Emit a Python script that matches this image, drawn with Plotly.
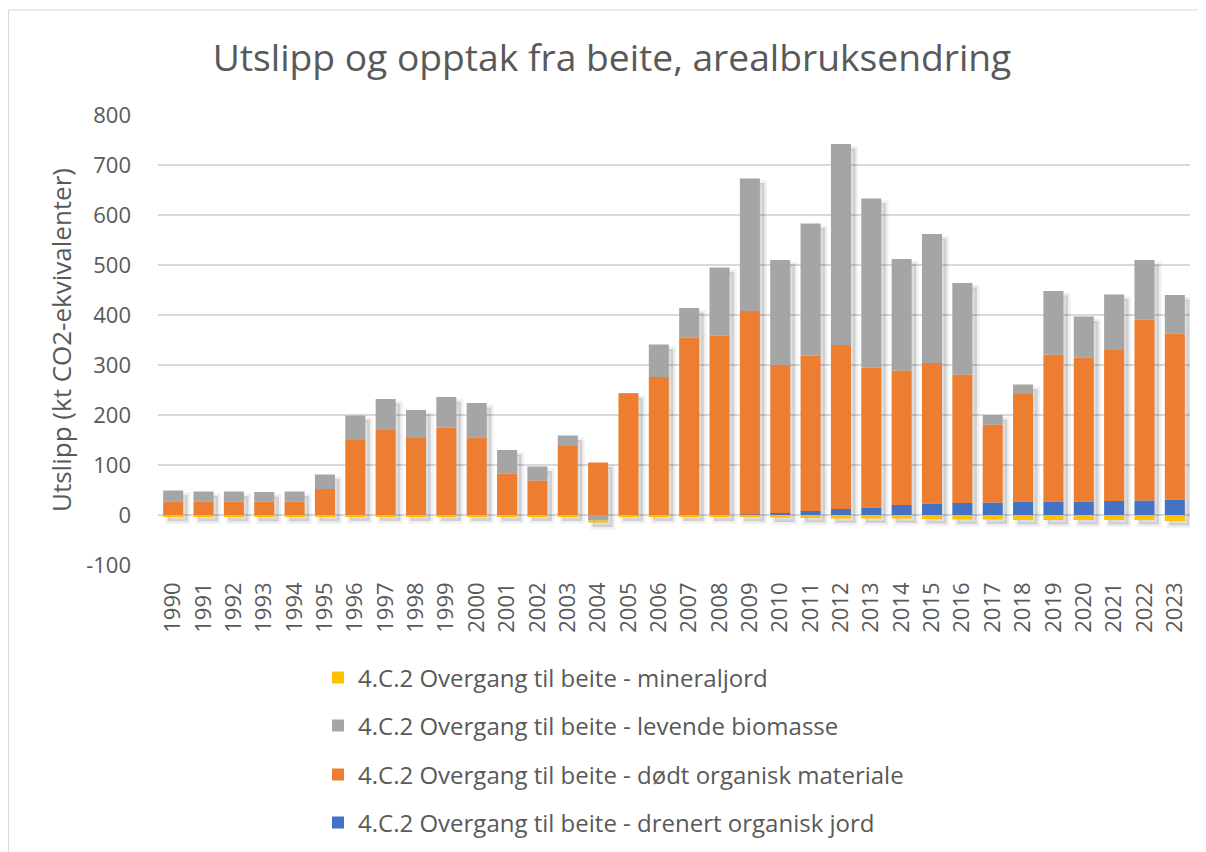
import plotly.graph_objects as go

years = [str(y) for y in range(1990, 2024)]
drenert = [0, 0, 0, 0, 0, 0, 0, 0, 0, 0, 0, 0, 0, 0, 0, 0, 0, 0, 0, 1, 4, 8, 12, 15, 20, 23, 24, 25, 27, 27, 27, 28, 29, 31]
dodt = [27, 27, 27, 27, 27, 52, 150, 170, 154, 175, 155, 83, 69, 138, 105, 242, 276, 355, 359, 407, 296, 311, 328, 280, 269, 281, 257, 156, 215, 294, 288, 302, 362, 332]
levende = [22, 20, 20, 19, 20, 29, 49, 62, 56, 61, 69, 47, 28, 21, -11, 1, 65, 59, 136, 265, 210, 264, 402, 338, 223, 258, 183, 19, 19, 127, 82, 111, 119, 77]
mineral = [-4, -4, -4, -4, -4, -4, -3, -3, -3, -3, -3, -3, -3, -3, -4, -3, -3, -3, -3, -4, -5, -6, -7, -7, -7, -8, -9, -9, -10, -10, -10, -10, -10, -12]
y_ticks = list(range(-100, 900, 100))

names = [
    "4.C.2 Overgang til beite - drenert organisk jord",
    "4.C.2 Overgang til beite - dødt organisk materiale",
    "4.C.2 Overgang til beite - levende biomasse",
    "4.C.2 Overgang til beite - mineraljord",
]
colors = ["#4472C4", "#ED7D31", "#A5A5A5", "#FFC000"]
series = [drenert, dodt, levende, mineral]
legend_ids = ["legend4", "legend3", "legend2", "legend"]
legend_centers = [815, 767, 718, 670]  # figure px of each legend row

font_family = "Open Sans"
txt = "#595959"
W, H = 1198, 844
L, R, T, B = 150, 16, 107, 287
PW, PH = W - L - R, H - T - B
BARW = 0.66


def px(fx):
    return (fx - L) / PW


def py(fy):
    return (H - B - fy) / PH


# soft drop shadow behind each stacked column (derived from the series totals)
series_cols = list(zip(*series))
pos_tot = [sum(v for v in col if v > 0) for col in series_cols]
neg_tot = [sum(v for v in col if v < 0) for col in series_cols]
drop = 9  # shadow shift downwards, in axis units (~4.5 px)
fig = go.Figure()
fig.add_trace(go.Bar(
    x=years, y=[p - n for p, n in zip(pos_tot, neg_tot)],
    base=[n - drop for n in neg_tot],
    width=BARW, offset=-BARW / 2 + 0.15,
    marker=dict(color="rgba(0,0,0,0.13)", line=dict(color="rgba(0,0,0,0.06)", width=5)),
    showlegend=False, hoverinfo="skip", xaxis="x", yaxis="y"))

for i, (nm, col, vals) in enumerate(zip(names, colors, series)):
    fig.add_trace(go.Bar(x=years, y=vals, name=nm, marker_color=col,
                         marker_line_width=0, legend=legend_ids[i],
                         xaxis="x2", yaxis="y2"))

legend_layouts = {}
for lid, cy in zip(legend_ids, legend_centers):
    legend_layouts[lid] = dict(orientation="v", xref="container", x=310 / W, xanchor="left",
                               yref="container", y=1 - cy / H, yanchor="middle",
                               font=dict(size=24, color=txt), bgcolor="rgba(0,0,0,0)")

fig.update_layout(
    width=W, height=H,
    barmode="relative", bargap=0.34,
    paper_bgcolor="white", plot_bgcolor="white",
    margin=dict(l=L, r=R, t=T, b=B, autoexpand=False),
    font=dict(family=font_family, color=txt),
    title=dict(text="Utslipp og opptak fra beite, arealbruksendring",
               x=604 / W, xanchor="center", y=1 - 50 / H, yanchor="middle",
               font=dict(size=37.2, color=txt, family=font_family)),
    showlegend=True,
    xaxis=dict(type="category", categoryorder="array", categoryarray=years,
               tickangle=-90, showgrid=False, showline=False,
               tickfont=dict(size=22, color=txt), ticks="", ticklabelstandoff=12),
    yaxis=dict(range=[-100, 800], tickvals=y_ticks, ticktext=[str(v) for v in y_ticks],
               showgrid=True, gridcolor="#D9D9D9", gridwidth=1.5, zeroline=False,
               showline=False, tickfont=dict(size=22, color=txt), ticklabelstandoff=26),
    xaxis2=dict(type="category", categoryorder="array", categoryarray=years,
                overlaying="x", matches="x", visible=False),
    yaxis2=dict(range=[-100, 800], overlaying="y", matches="y", visible=False),
    **legend_layouts,
)
fig.add_annotation(text="Utslipp (kt CO2-ekvivalenter)", textangle=-90,
                   xref="paper", yref="paper", x=px(53), y=0.5,
                   xanchor="center", yanchor="middle", showarrow=False,
                   font=dict(size=26, color=txt, family=font_family))
fig.add_shape(type="rect", xref="paper", yref="paper",
              x0=px(0.5), x1=px(1195), y0=py(850), y1=py(2),
              line=dict(color="#D9D9D9", width=1), fillcolor="rgba(0,0,0,0)", layer="below")
fig.write_html("out.html")
